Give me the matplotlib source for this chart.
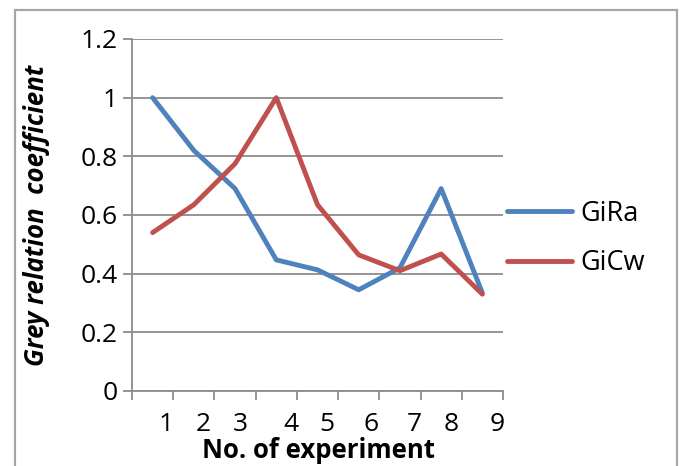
import matplotlib
matplotlib.use("Agg")
import matplotlib.pyplot as plt
from matplotlib.patches import Rectangle

experiments = [1, 2, 3, 4, 5, 6, 7, 8, 9]
gira = [1.0, 0.82, 0.69, 0.447, 0.413, 0.345, 0.42, 0.69, 0.334]
gicw = [0.54, 0.635, 0.775, 1.0, 0.635, 0.464, 0.41, 0.467, 0.33]
tick_labels = ["1", "2", "3", "4", "5", "6", "7", "8", "9"]
y_ticks = [0, 0.2, 0.4, 0.6, 0.8, 1, 1.2]
y_tick_labels = ["0", "0.2", "0.4", "0.6", "0.8", "1", "1.2"]

# layout (label placement as drawn in the original, slightly offset)
label_pos = [1.325, 2.22, 3.12, 4.36, 5.23, 6.30, 7.34, 8.24, 9.36]

FONT = "Open Sans"
plt.rcParams["font.family"] = [FONT, "DejaVu Sans"]

fig = plt.figure(figsize=(6.84, 4.66), dpi=100)
ax = fig.add_axes([132/684, 1-391/466, (503-132)/684, (391-39)/466])

blue = "#4F81BD"
red = "#C0504D"
grid_c = "#8C8C8C"

ax.plot(experiments, gira, color=blue, lw=3.5, label="GiRa", solid_joinstyle="round", solid_capstyle="round")
ax.plot(experiments, gicw, color=red, lw=3.5, label="GiCw", solid_joinstyle="round", solid_capstyle="round")

ax.set_xlim(0.5, 9.5)
ax.set_ylim(0, 1.2)
ax.set_yticks(y_ticks)
ax.set_yticklabels(y_tick_labels)
ax.yaxis.grid(True, color=grid_c, lw=1.3)
ax.set_axisbelow(True)

ax.set_xticks(label_pos)
ax.set_xticklabels(tick_labels)
ax.set_xticks([x + 0.5 for x in [0] + experiments], minor=True)
ax.tick_params(axis="x", which="major", length=0, pad=15, labelsize=19)
ax.tick_params(axis="x", which="minor", length=6.5, width=1.3, color=grid_c, direction="out")
ax.tick_params(axis="y", length=6.5, width=1.3, color=grid_c, pad=4, labelsize=19)

for s in ["top", "right"]:
    ax.spines[s].set_visible(False)
for s in ["left", "bottom"]:
    ax.spines[s].set_color(grid_c)
    ax.spines[s].set_linewidth(1.3)

leg = ax.legend(loc="center left", bbox_to_anchor=(507/684, 1-238.5/466),
                bbox_transform=fig.transFigure, frameon=False, fontsize=19.5,
                handlelength=2.4, handletextpad=0.3, labelspacing=0.8, borderpad=0,
                borderaxespad=0)

fig.text(318/684, 1-451/466, "No. of experiment", ha="center", va="center",
         fontsize=18.5, fontweight="bold")
fig.text(37/684, 1-215/466, "Grey relation  coefficient", ha="center", va="center",
         rotation=90, fontsize=18.5, fontweight="bold", fontstyle="italic")

fig.add_artist(Rectangle((15/684, -0.1), (677-15)/684, 1-10/466+0.1,
                         transform=fig.transFigure, fill=False,
                         edgecolor="#A6A6A6", lw=1.6))

fig.savefig("out.png", dpi=100)
